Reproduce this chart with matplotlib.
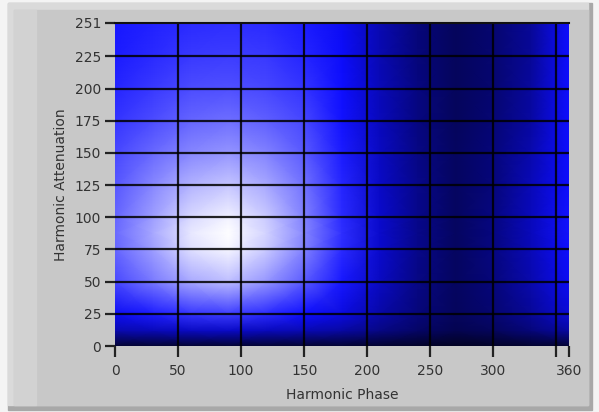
import matplotlib.pyplot as plt
from matplotlib.colors import LinearSegmentedColormap
from matplotlib.patches import Rectangle
import numpy as np

# intensity (0 = black, 0.5 = pure blue, 1 = white)
phase = [0, 30, 60, 90, 120, 150, 180, 210, 240, 270, 300, 330, 360]
atten = [0, 12, 25, 50, 75, 88, 100, 125, 150, 175, 200, 225, 251]
intensity = [
    [0.10, 0.10, 0.10, 0.10, 0.10, 0.10, 0.10, 0.09, 0.08, 0.07, 0.08, 0.09, 0.10],
    [0.34, 0.36, 0.38, 0.39, 0.37, 0.35, 0.32, 0.26, 0.20, 0.16, 0.18, 0.24, 0.32],
    [0.48, 0.53, 0.58, 0.60, 0.56, 0.50, 0.44, 0.33, 0.24, 0.18, 0.22, 0.30, 0.42],
    [0.62, 0.72, 0.82, 0.86, 0.78, 0.66, 0.52, 0.38, 0.26, 0.19, 0.24, 0.34, 0.48],
    [0.68, 0.80, 0.93, 0.98, 0.89, 0.74, 0.56, 0.40, 0.27, 0.19, 0.25, 0.36, 0.50],
    [0.69, 0.82, 0.95, 1.00, 0.91, 0.75, 0.57, 0.40, 0.27, 0.19, 0.25, 0.37, 0.51],
    [0.68, 0.80, 0.92, 0.97, 0.89, 0.74, 0.56, 0.40, 0.27, 0.19, 0.25, 0.37, 0.51],
    [0.65, 0.75, 0.84, 0.88, 0.82, 0.71, 0.55, 0.39, 0.27, 0.19, 0.24, 0.36, 0.50],
    [0.62, 0.69, 0.75, 0.78, 0.74, 0.66, 0.53, 0.38, 0.26, 0.19, 0.24, 0.34, 0.50],
    [0.58, 0.63, 0.68, 0.70, 0.67, 0.62, 0.51, 0.37, 0.25, 0.18, 0.23, 0.32, 0.50],
    [0.55, 0.59, 0.63, 0.64, 0.62, 0.58, 0.50, 0.36, 0.25, 0.18, 0.22, 0.31, 0.50],
    [0.53, 0.56, 0.59, 0.60, 0.59, 0.55, 0.49, 0.35, 0.24, 0.18, 0.22, 0.30, 0.50],
    [0.52, 0.54, 0.56, 0.57, 0.56, 0.53, 0.48, 0.35, 0.24, 0.18, 0.22, 0.30, 0.50],
]

x_ticks = [0, 50, 100, 150, 200, 250, 300, 350, 360]
x_labels = ['0', '50', '100', '150', '200', '250', '300', '', '360']
y_ticks = [0, 25, 50, 75, 100, 125, 150, 175, 200, 225, 251]

cmap = LinearSegmentedColormap.from_list('bw', [(0, 0, 0), (0.05, 0.05, 1.0), (1, 1, 1)])

W, H = 599, 412
fig = plt.figure(figsize=(W / 100, H / 100), dpi=100, facecolor='#f4f4f4')


def panel(x0, y0, x1, y1, color, z):
    # rectangle given in image pixels (origin top left)
    fig.patches.append(Rectangle((x0 / W, 1 - y1 / H), (x1 - x0) / W, (y1 - y0) / H,
                                 transform=fig.transFigure, color=color, zorder=z))


# bevelled LabVIEW style frame
panel(8, 3, 592, 410, '#a8a8a8', -5)
panel(8, 3, 588, 405, '#dadada', -4)
panel(14, 10, 588, 405, '#c8c8c8', -3)
panel(14, 10, 36, 405, '#d2d2d2', -2)

ax = fig.add_axes([115 / W, 1 - 346 / H, 454 / W, 323 / H])
ax.pcolormesh(phase, atten, np.array(intensity), cmap=cmap, vmin=0, vmax=1,
              shading='gouraud')
ax.set_xlim(0, 360)
ax.set_ylim(0, 251)

for xv in x_ticks[1:-1]:
    ax.axvline(xv, color='black', lw=1.6, alpha=0.85)
for yv in y_ticks[1:-1]:
    ax.axhline(yv, color='black', lw=1.6, alpha=0.85)

ax.set_xticks(x_ticks)
ax.set_xticklabels(x_labels)
ax.set_yticks(y_ticks)
ax.tick_params(axis='both', colors='#222222', labelcolor='#333333', labelsize=10,
               length=7, width=1.6, direction='out')
ax.tick_params(axis='x', pad=5, length=8)
ax.tick_params(axis='y', pad=3)
for s in ['left', 'right', 'bottom']:
    ax.spines[s].set_visible(False)
ax.spines['top'].set_color('#111111')
ax.spines['top'].set_linewidth(1.5)

ax.set_xlabel('Harmonic Phase', fontsize=10, color='#333333', labelpad=7)
ax.set_ylabel('Harmonic Attenuation', fontsize=10, color='#333333', labelpad=5)

plt.savefig('out.png', dpi=100, facecolor=fig.get_facecolor())
